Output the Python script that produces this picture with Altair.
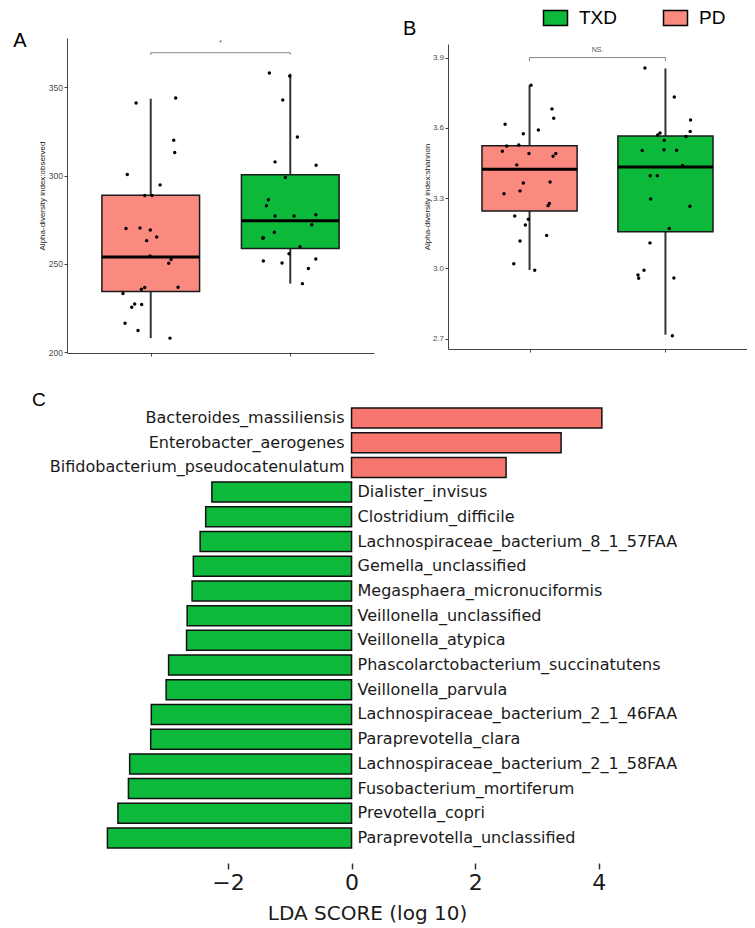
import altair as alt
import pandas as pd

# ---------------- data ----------------
groups = ["PD", "TXD"]
group_pos = [1, 2]
legend_order = ["TXD", "PD"]

# Panel A: observed richness (jitter = horizontal offset of each dot, in group units)
a_pd_values = [341.0, 343.8, 319.9, 313.0, 300.6, 294.7, 288.7, 288.7, 270.1, 270.3, 269.2, 265.2, 263.2,
               254.5, 252.6, 250.4, 236.8, 236.7, 235.7, 233.3, 227.4, 225.6, 227.1, 216.5, 212.4, 208.1]
a_pd_jitter = [-0.105, 0.179, 0.165, 0.172, -0.168, 0.067, -0.043, 0.009, -0.177, -0.077, -0.003, 0.043, -0.029,
               -0.005, 0.146, 0.129, 0.196, -0.043, -0.067, -0.199, -0.115, -0.136, -0.065, -0.184, -0.091, 0.138]
a_txd_values = [357.9, 356.2, 342.7, 321.8, 307.7, 305.8, 298.9, 286.3, 282.9, 277.1, 277.1, 277.8, 272.2,
                267.9, 264.8, 264.6, 259.8, 255.8, 251.7, 250.6, 252.8, 247.4, 238.9]
a_txd_jitter = [-0.150, -0.004, -0.054, 0.051, -0.109, 0.185, -0.035, -0.157, -0.171, -0.109, 0.027, 0.183, 0.154,
                -0.114, -0.193, -0.197, 0.070, -0.009, -0.193, -0.059, 0.183, 0.130, 0.087]
a_lower = [208.1, 238.9]
a_q1 = [234.4, 258.8]
a_median = [254.0, 274.4]
a_q3 = [288.9, 300.4]
a_upper = [343.4, 357.5]
a_ticks = [200, 250, 300, 350]
a_domain = [199.7, 377.7]
a_bracket = [369.4, 368.2, 373.7]
a_sig = "*"

# Panel B: Shannon index
b_pd_values = [3.782, 3.681, 3.641, 3.615, 3.591, 3.575, 3.523, 3.527, 3.500, 3.491, 3.491, 3.479, 3.442,
               3.365, 3.369, 3.331, 3.319, 3.277, 3.268, 3.224, 3.210, 3.185, 3.117, 3.141, 3.020, 2.992]
b_pd_jitter = [0.011, 0.165, 0.178, -0.180, 0.065, -0.046, -0.168, -0.079, -0.200, -0.004, 0.193, 0.173, -0.094,
               -0.046, 0.151, -0.070, -0.188, 0.146, 0.136, -0.109, -0.009, -0.031, -0.070, 0.126, -0.116, 0.038]
b_txd_values = [3.856, 3.732, 3.634, 3.585, 3.578, 3.570, 3.563, 3.547, 3.503, 3.507, 3.504, 3.439, 3.396,
                3.396, 3.296, 3.265, 3.170, 3.109, 2.992, 2.972, 2.958, 2.959, 2.713]
b_txd_jitter = [-0.151, 0.065, 0.185, 0.182, -0.040, -0.057, 0.151, -0.009, -0.171, -0.011, 0.082, 0.126, -0.112,
                -0.060, -0.109, 0.180, 0.028, -0.114, -0.158, -0.202, -0.197, 0.062, 0.051]
b_lower = [2.993, 2.717]
b_q1 = [3.245, 3.157]
b_median = [3.423, 3.433]
b_q3 = [3.524, 3.565]
b_upper = [3.782, 3.853]
b_ticks = [2.7, 3.0, 3.3, 3.6, 3.9]
b_domain = [2.656, 3.958]
b_bracket = [3.900, 3.886, 3.924]
b_sig = "NS."

# Panel C: LEfSe LDA scores
taxa = ["Bacteroides_massiliensis", "Enterobacter_aerogenes", "Bifidobacterium_pseudocatenulatum",
        "Dialister_invisus", "Clostridium_difficile", "Lachnospiraceae_bacterium_8_1_57FAA",
        "Gemella_unclassified", "Megasphaera_micronuciformis", "Veillonella_unclassified",
        "Veillonella_atypica", "Phascolarctobacterium_succinatutens", "Veillonella_parvula",
        "Lachnospiraceae_bacterium_2_1_46FAA", "Paraprevotella_clara", "Lachnospiraceae_bacterium_2_1_58FAA",
        "Fusobacterium_mortiferum", "Prevotella_copri", "Paraprevotella_unclassified"]
lda = [4.05, 3.39, 2.50, -2.26, -2.36, -2.45, -2.56, -2.58, -2.66, -2.67, -2.96, -3.00,
       -3.24, -3.25, -3.59, -3.61, -3.78, -3.95]
lda_group = ["PD"] * 3 + ["TXD"] * 15
lda_ticks = [-2, 0, 2, 4]

# ---------------- style ----------------
GREEN = "#0CB93A"
BOX_RED = "#FA8980"
BAR_RED = "#F87670"
SANS = "Liberation Sans"
DJ = "DejaVu Sans"
HALF_BOX = 0.35


def points_frame(pv, pj, tv, tj):
    rows = []
    for g, p, vals, jit in [("PD", 1, pv, pj), ("TXD", 2, tv, tj)]:
        for v, j in zip(vals, jit):
            rows.append({"group": g, "x": p + j, "value": v})
    return pd.DataFrame(rows)


def stats_frame(lo, q1, med, q3, up):
    return pd.DataFrame({
        "group": groups, "pos": group_pos, "lower": lo, "q1": q1, "median": med,
        "q3": q3, "upper": up,
        "left": [p - HALF_BOX for p in group_pos], "right": [p + HALF_BOX for p in group_pos],
    })


def panel_title(letter, dx, dy, size=20):
    return alt.TitleParams(letter, anchor="start", frame="group", dx=dx, dy=dy, offset=0,
                           baseline="alphabetic", font=SANS, fontSize=size, fontWeight="normal",
                           color="black")


def box_panel(pts, st, ticks, domain, ytitle, bracket, sig, width, height, title, yrange=None,
              legend=None, label_size=8.5, title_pad=2):
    xs = alt.Scale(domain=[0.4, 2.6], nice=False, zero=False)
    ys_kw = dict(domain=domain, nice=False, zero=False)
    if yrange is not None:
        ys_kw["range"] = yrange
    ys = alt.Scale(**ys_kw)
    xaxis = alt.Axis(values=group_pos, labels=False, title=None, grid=False, domainColor="#444",
                     domainWidth=1, tickColor="#444", tickSize=3, tickWidth=1)
    yaxis = alt.Axis(values=ticks, title=ytitle, grid=False, domainColor="#444", domainWidth=1,
                     tickColor="#444", tickSize=3, tickWidth=1, labelFont=SANS,
                     labelFontSize=label_size, labelColor="#4d4d4d", labelPadding=1.5,
                     titleFont=SANS, titleFontSize=8, titleFontWeight="normal",
                     titleColor="#222", titlePadding=title_pad)

    def X(f):
        return alt.X(f, scale=xs, axis=xaxis, title=None)

    def Y(f):
        return alt.Y(f, scale=ys, axis=yaxis, title=ytitle)

    fill_kw = dict(scale=alt.Scale(domain=legend_order, range=[GREEN, BOX_RED]))
    fill_kw["legend"] = legend

    whisker = alt.Chart(st).mark_rule(color="#333", strokeWidth=2).encode(
        x=X("pos:Q"), y=Y("lower:Q"), y2="upper:Q")
    box = alt.Chart(st).mark_bar(stroke="#1a1a1a", strokeWidth=1.5).encode(
        x=X("left:Q"), x2="right:Q", y=Y("q1:Q"), y2="q3:Q",
        fill=alt.Fill("group:N", **fill_kw))
    median = alt.Chart(st).mark_rule(color="black", strokeWidth=3).encode(
        x=X("left:Q"), x2="right:Q", y=Y("median:Q"))
    dots = alt.Chart(pts).mark_circle(size=12, color="black", opacity=1).encode(
        x=X("x:Q"), y=Y("value:Q"))
    br = pd.DataFrame({"x1": [1], "x2": [2], "y": [bracket[0]], "ylab": [bracket[2]],
                       "xm": [1.5], "label": [sig]})
    brv = pd.DataFrame({"x": group_pos, "y": [bracket[0]] * 2, "y2": [bracket[1]] * 2})
    hline = alt.Chart(br).mark_rule(color="#666", strokeWidth=0.8).encode(
        x=X("x1:Q"), x2="x2:Q", y=Y("y:Q"))
    vline = alt.Chart(brv).mark_rule(color="#666", strokeWidth=0.8).encode(
        x=X("x:Q"), y=Y("y:Q"), y2="y2:Q")
    sigt = alt.Chart(br).mark_text(font=SANS, fontSize=7, color="#555", baseline="alphabetic").encode(
        x=X("xm:Q"), y=Y("ylab:Q"), text="label:N")
    return alt.layer(whisker, box, median, dots, hline, vline, sigt).properties(
        width=width, height=height, title=title)


chart_a = box_panel(
    points_frame(a_pd_values, a_pd_jitter, a_txd_values, a_txd_jitter),
    stats_frame(a_lower, a_q1, a_median, a_q3, a_upper),
    a_ticks, a_domain, "Alpha-diversity index:observed", a_bracket, a_sig, 307, 315,
    panel_title("A", -53.7, 28.5), legend=None, label_size=8.5, title_pad=2)

legend_b = alt.Legend(title=None, orient="none", legendX=98, legendY=-29.5, direction="horizontal",
                      symbolType="M-1.5,-0.9375H1.5V0.9375H-1.5Z", symbolSize=256,
                      symbolStrokeColor="black", symbolStrokeWidth=1.5, symbolOpacity=1,
                      labelFont=SANS, labelFontSize=19, labelColor="black", labelOffset=14,
                      columnPadding=43, padding=0)

chart_b = box_panel(
    points_frame(b_pd_values, b_pd_jitter, b_txd_values, b_txd_jitter),
    stats_frame(b_lower, b_q1, b_median, b_q3, b_upper),
    b_ticks, b_domain, "Alpha-diversity index:shannon", b_bracket, b_sig, 299, 311,
    panel_title("B", -45, 46), yrange=[311, 6], legend=legend_b, label_size=8, title_pad=1)

# Panel C (its x range reaches past the nominal width so the grid column stays as wide as panel A)
c_df = pd.DataFrame({"taxon": taxa, "lda": lda, "group": lda_group})
cx = alt.Scale(domain=[-4.07, 4.57], range=[33, 567], nice=False, zero=False)
cy = alt.Scale(domain=taxa, paddingInner=0.19, paddingOuter=0.607)
caxis = alt.Axis(values=lda_ticks, format="d", domain=False, grid=False, tickSize=6, tickWidth=1.5,
                 tickColor="#333", labelFont=DJ, labelFontSize=22, labelColor="#1a1a1a", labelPadding=3.5,
                 labelFlush=False, title="LDA SCORE (log 10)", titleFont=DJ, titleFontSize=20,
                 titleFontWeight="normal", titleColor="#1a1a1a", titlePadding=10)
cY = alt.Y("taxon:N", scale=cy, axis=None, sort=taxa)
bars = alt.Chart(c_df).mark_bar(stroke="#111", strokeWidth=1.5).encode(
    x=alt.X("lda:Q", scale=cx, axis=caxis, title="LDA SCORE (log 10)"), x2=alt.datum(0), y=cY,
    fill=alt.Fill("group:N", scale=alt.Scale(domain=["PD", "TXD"], range=[BAR_RED, GREEN]), legend=None))
lab_pos = alt.Chart(c_df).transform_filter("datum.lda > 0").mark_text(
    align="right", dx=-7, baseline="middle", font=DJ, fontSize=16, color="#1a1a1a").encode(
    x=alt.datum(0), y=cY, text="taxon:N")
lab_neg = alt.Chart(c_df).transform_filter("datum.lda < 0").mark_text(
    align="left", dx=6, baseline="middle", font=DJ, fontSize=16, color="#1a1a1a").encode(
    x=alt.datum(0), y=cY, text="taxon:N")
chart_c = alt.layer(bars, lab_pos, lab_neg).properties(
    width=307, height=470, title=panel_title("C", -35, 32.2, size=19))

chart = alt.concat(
    chart_a, chart_b, chart_c, columns=2, align="each", bounds="flush",
    spacing=alt.RowColnumber(row=40, column=74)
).resolve_scale(fill="independent").resolve_legend(fill="independent").properties(
    padding={"left": 5, "top": 0, "right": 0, "bottom": 0}
).configure_view(strokeWidth=0).configure_axis(grid=False)

chart.save("out.html", embed_options={"renderer": "svg", "actions": False})
